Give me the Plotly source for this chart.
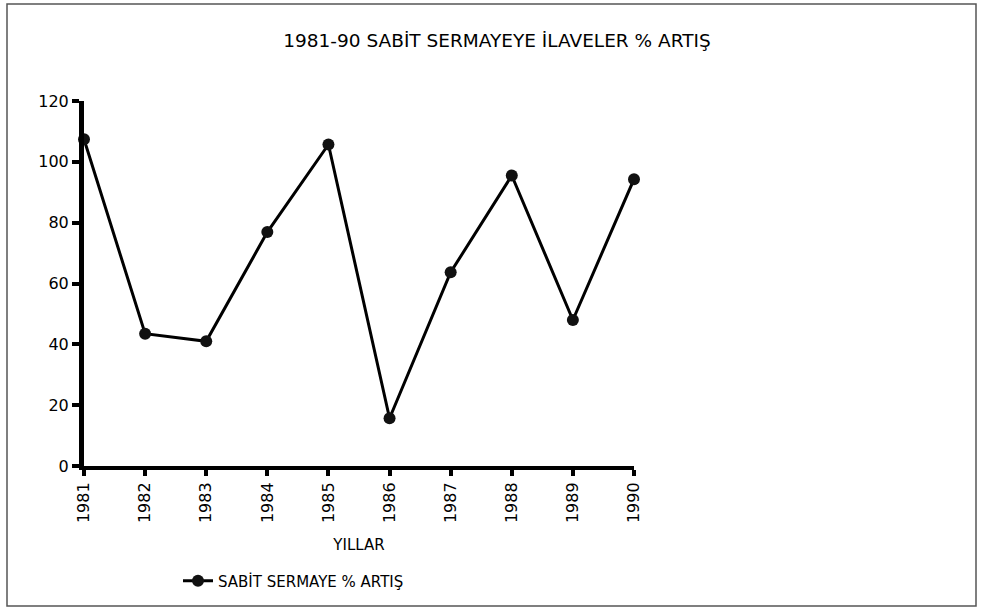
import plotly.graph_objects as go

years = [1981, 1982, 1983, 1984, 1985, 1986, 1987, 1988, 1989, 1990]
values = [107.4, 43.5, 41.0, 76.9, 105.7, 15.7, 63.7, 95.5, 48.0, 94.3]
y_ticks = [0, 20, 40, 60, 80, 100, 120]
title_text = "1981-90 SABİT SERMAYEYE İLAVELER % ARTIŞ"
x_title = "YILLAR"
series_name = "SABİT SERMAYE % ARTIŞ"

W, H = 983, 611
L, R, T, B = 84, 634, 101, 466  # plot area in px
pw, ph = R - L, B - T

def px_x(px):
    return (px - L) / pw

def px_y(py):
    return (B - py) / ph

FAM = "DejaVu Sans, Arial, sans-serif"
font = dict(family=FAM, color="black", size=16)

fig = go.Figure()
fig.add_trace(go.Scatter(
    x=years, y=values, mode="lines+markers", name=series_name,
    line=dict(color="black", width=3),
    marker=dict(color="#111111", size=12, symbol="circle"),
    cliponaxis=False,
))

fig.update_layout(
    width=W, height=H,
    margin=dict(l=L, r=W - R, t=T, b=H - B),
    paper_bgcolor="white", plot_bgcolor="white",
    font=font,
    title=dict(text=title_text, x=497 / W, xanchor="center",
               y=1 - 41 / H, yanchor="middle",
               font=dict(size=18.5, family=FAM, color="black")),
    showlegend=True,
    legend=dict(x=px_x(178), y=px_y(581), xanchor="left", yanchor="middle",
                orientation="h", font=dict(size=15, family=FAM), bgcolor="rgba(0,0,0,0)",
                itemwidth=30),
    xaxis=dict(range=[1981, 1990], tickmode="array", tickvals=years,
               ticktext=[str(y) for y in years], tickangle=-90,
               showgrid=False, zeroline=False, showline=True, linecolor="black",
               linewidth=4, ticks="outside", ticklen=6, tickwidth=4, tickcolor="black",
               title=dict(text=x_title, standoff=18, font=dict(size=15, family=FAM)),
               tickfont=dict(size=16, family=FAM)),
    yaxis=dict(range=[0, 120], tickmode="array", tickvals=y_ticks,
               showgrid=False, zeroline=False, showline=True, linecolor="black",
               linewidth=5, ticks="outside", ticklen=7, tickwidth=4, tickcolor="black",
               tickfont=dict(size=16, family=FAM)),
    shapes=[dict(type="rect", xref="paper", yref="paper",
                 x0=px_x(7), x1=px_x(976), y0=px_y(606), y1=px_y(4),
                 line=dict(color="#555555", width=1.5), fillcolor="rgba(0,0,0,0)",
                 layer="below")],
)

fig.write_html("out.html", config={"displayModeBar": False},
               post_script="document.body.style.margin='0';document.body.style.overflow='hidden';")
